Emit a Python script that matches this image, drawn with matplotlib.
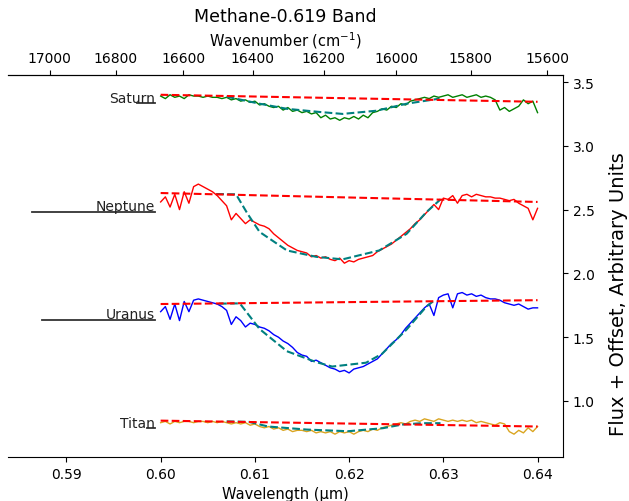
import numpy as np
import matplotlib
matplotlib.use("Agg")
from matplotlib import pyplot as plt

# wavelength grid of the spectra (micron)
wl = np.linspace(0.600, 0.640, 81)

saturn = [3.39, 3.37, 3.40, 3.38, 3.39, 3.37, 3.40, 3.39, 3.39, 3.38,
          3.39, 3.38, 3.38, 3.37, 3.38, 3.36, 3.37, 3.35, 3.36, 3.34,
          3.35, 3.32, 3.33, 3.31, 3.30, 3.31, 3.28, 3.30, 3.27, 3.28,
          3.26, 3.27, 3.25, 3.26, 3.22, 3.24, 3.21, 3.22, 3.20, 3.22,
          3.21, 3.23, 3.21, 3.24, 3.22, 3.26, 3.27, 3.29, 3.28, 3.31,
          3.30, 3.33, 3.32, 3.35, 3.36, 3.37, 3.38, 3.37, 3.39, 3.38,
          3.39, 3.40, 3.38, 3.39, 3.40, 3.38, 3.39, 3.40, 3.38, 3.39,
          3.38, 3.36, 3.28, 3.30, 3.27, 3.29, 3.31, 3.36, 3.33, 3.35, 3.26]

neptune = [2.56, 2.60, 2.52, 2.62, 2.50, 2.64, 2.55, 2.68, 2.70, 2.68,
           2.66, 2.64, 2.61, 2.57, 2.53, 2.42, 2.47, 2.43, 2.39, 2.42,
           2.40, 2.38, 2.37, 2.35, 2.31, 2.28, 2.25, 2.22, 2.20, 2.18,
           2.17, 2.16, 2.13, 2.14, 2.12, 2.13, 2.11, 2.10, 2.12, 2.08,
           2.10, 2.09, 2.11, 2.12, 2.13, 2.14, 2.17, 2.19, 2.21, 2.23,
           2.26, 2.29, 2.32, 2.35, 2.39, 2.42, 2.46, 2.50, 2.54, 2.50,
           2.59, 2.58, 2.61, 2.55, 2.61, 2.62, 2.60, 2.62, 2.61, 2.60,
           2.60, 2.59, 2.59, 2.58, 2.57, 2.58, 2.55, 2.53, 2.51, 2.42, 2.51]

uranus = [1.70, 1.74, 1.64, 1.76, 1.63, 1.78, 1.70, 1.79, 1.80, 1.79,
          1.78, 1.77, 1.76, 1.74, 1.71, 1.60, 1.66, 1.63, 1.58, 1.61,
          1.60, 1.58, 1.57, 1.55, 1.52, 1.50, 1.47, 1.45, 1.42, 1.38,
          1.36, 1.35, 1.31, 1.32, 1.30, 1.28, 1.26, 1.25, 1.23, 1.24,
          1.22, 1.25, 1.26, 1.27, 1.29, 1.31, 1.33, 1.37, 1.41, 1.45,
          1.48, 1.52, 1.57, 1.61, 1.65, 1.69, 1.73, 1.76, 1.67, 1.81,
          1.83, 1.84, 1.73, 1.84, 1.85, 1.83, 1.84, 1.82, 1.83, 1.81,
          1.80, 1.80, 1.79, 1.77, 1.76, 1.75, 1.76, 1.74, 1.72, 1.73, 1.73]

titan = [0.83, 0.84, 0.82, 0.84, 0.83, 0.84, 0.84, 0.83, 0.84, 0.84,
         0.83, 0.84, 0.83, 0.84, 0.83, 0.82, 0.83, 0.82, 0.83, 0.81,
         0.82, 0.80, 0.79, 0.80, 0.78, 0.79, 0.77, 0.78, 0.76, 0.77,
         0.77, 0.76, 0.77, 0.75, 0.76, 0.75, 0.76, 0.74, 0.76, 0.75,
         0.76, 0.74, 0.76, 0.77, 0.76, 0.78, 0.77, 0.79, 0.80, 0.81,
         0.82, 0.83, 0.82, 0.84, 0.85, 0.84, 0.86, 0.85, 0.84, 0.86,
         0.85, 0.84, 0.85, 0.84, 0.85, 0.84, 0.85, 0.83, 0.84, 0.83,
         0.82, 0.81, 0.83, 0.82, 0.76, 0.74, 0.77, 0.75, 0.79, 0.76, 0.80]

# band model fits (teal dashed)
sat_mod_wl = [0.6070, 0.6105, 0.6134, 0.6169, 0.6193, 0.6229, 0.6261, 0.6296]
sat_mod = [3.385, 3.33, 3.29, 3.265, 3.25, 3.275, 3.33, 3.37]
nep_mod_wl = [0.6059, 0.6080, 0.6092, 0.6105, 0.6134, 0.6165, 0.6193, 0.6232, 0.6261, 0.6282, 0.6297]
nep_mod = [2.622, 2.62, 2.47, 2.325, 2.18, 2.13, 2.11, 2.18, 2.31, 2.48, 2.58]
ura_mod_wl = [0.6062, 0.6084, 0.6105, 0.6134, 0.6165, 0.6182, 0.6218, 0.6235, 0.6261, 0.6282, 0.6289]
ura_mod = [1.763, 1.765, 1.564, 1.39, 1.305, 1.27, 1.30, 1.37, 1.56, 1.74, 1.78]
tit_mod_wl = [0.6070, 0.6094, 0.6114, 0.6155, 0.6199, 0.6236, 0.6256, 0.6277, 0.6297]
tit_mod = [0.84, 0.836, 0.80, 0.776, 0.763, 0.787, 0.815, 0.826, 0.826]

# continuum (red dashed)
cont_wl = [0.600, 0.640]
sat_cont = [3.40, 3.345]
nep_cont = [2.63, 2.56]
ura_cont = [1.76, 1.79]
tit_cont = [0.846, 0.80]

# planet labels: name, underline start, underline level
names = ["Saturn", "Neptune", "Uranus", "Titan"]
line_start = [0.59754, 0.5864, 0.58745, 0.5985]
label_y = [3.335, 2.484, 1.635, 0.788]

fig = plt.figure(figsize=(6.29, 5.02), dpi=100)
ax = fig.add_axes([8/629, 44/502, 555/629, 382/502])

ax.plot(wl, saturn, color="green", lw=1)
ax.plot(wl, neptune, color="red", lw=1)
ax.plot(wl, uranus, color="blue", lw=1)
ax.plot(wl, titan, color="goldenrod", lw=1)

for mw, m in [(sat_mod_wl, sat_mod), (nep_mod_wl, nep_mod), (ura_mod_wl, ura_mod), (tit_mod_wl, tit_mod)]:
    ax.plot(mw, m, "--", color="teal", lw=1.5)
for c in [sat_cont, nep_cont, ura_cont, tit_cont]:
    ax.plot(cont_wl, c, "r--", lw=1.5)

for name, x0, y in zip(names, line_start, label_y):
    ax.plot([x0, 0.5994], [y, y], color="#333333", lw=1.3)
    ax.text(0.5994, y + 0.012, name, ha="right", va="baseline", fontsize=10, color="#222222")

ax.set_xlim(0.5838, 0.6427)
ax.set_ylim(0.561, 3.555)
ax.spines["left"].set_visible(False)
ax.yaxis.tick_right()
ax.yaxis.set_label_position("right")
ax.set_ylabel("Flux + Offset, Arbitrary Units", fontsize=14)
ax.yaxis.set_label_coords(1.083, 0.43)
ax.set_xlabel("Wavelength (µm)", fontsize=10.5)

top = ax.secondary_xaxis("top", functions=(lambda w: 1e4 / w, lambda n: 1e4 / n))
top.set_xticks([17000, 16800, 16600, 16400, 16200, 16000, 15800, 15600])
top.set_xlabel("Wavenumber (cm$^{-1}$)", fontsize=10.5)
ax.set_title("Methane-0.619 Band", fontsize=12.5)

plt.savefig("out.png", dpi=100)
